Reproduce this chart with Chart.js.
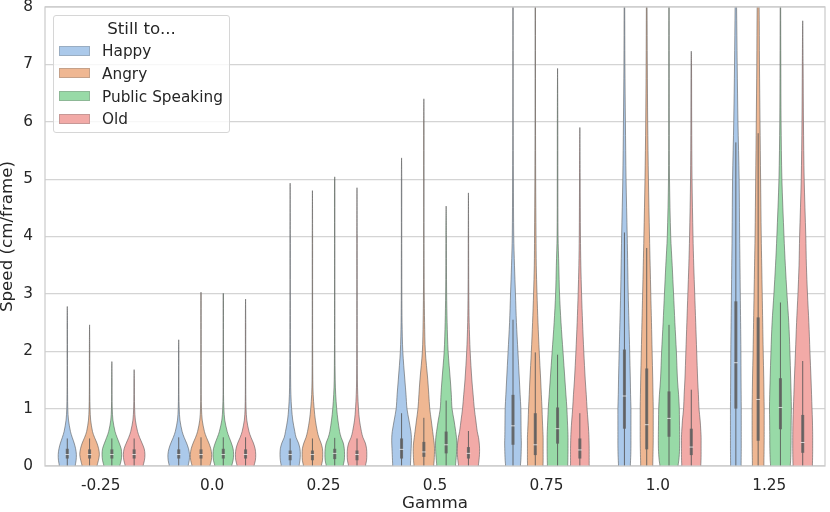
<!DOCTYPE html>
<html>
<head>
<meta charset="utf-8">
<script src="https://cdn.jsdelivr.net/npm/chart.js@4.4.0/dist/chart.umd.min.js"></script>
<style>
  html, body { margin: 0; padding: 0; background: #fff; }
  #wrap { position: relative; width: 830px; height: 512px; }
  #legend {
    position: absolute; left: 53px; top: 15px; width: 177px; height: 118px;
    background: rgba(255,255,255,0.8); border: 1px solid #d6d6d6; border-radius: 3px;
    font-family: "DejaVu Sans", sans-serif; font-size: 15.3px; color: #262626;
    box-sizing: border-box;
  }
  #legend .title { position: absolute; top: 2px; left: 0; width: 100%; text-align: center;
    font-size: 16.7px; line-height: 20px; }
  #legend .item { position: absolute; left: 5px; height: 20px; line-height: 20px; white-space: nowrap; }
  #legend .patch { display: inline-block; width: 31px; height: 10px; vertical-align: middle;
    margin-top: -2px; margin-right: 12px; box-sizing: border-box; border: 1px solid rgba(120,120,120,0.35); }
</style>
</head>
<body>
<div id="wrap">
  <canvas id="violins" width="830" height="512"></canvas>
  <div id="legend"></div>
</div>
<script>
// categories and series
const groups = ['-0.25', '0.0', '0.25', '0.5', '0.75', '1.0', '1.25'];
const series = ['Happy', 'Angry', 'Public Speaking', 'Old'];
const colors = ['#abc9ea', '#efb792', '#98daa7', '#f2aaa7'];

// speed levels at which the density of each violin was read
const gridY = [0, 0.1, 0.2, 0.3, 0.4, 0.5, 0.6, 0.8, 1, 1.25, 1.5, 2, 2.5, 3, 3.5, 4, 5, 6, 7, 8];

// relative density at each gridY level, one row per gamma
const happyDensity = [
  [16, 18, 18.5, 17, 14, 10, 6.5, 2.5, 1, 0.6, 0.4, 0.4, 0.4, 0.4, 0.4, 0.4, 0.4, 0.4, 0.4, 0.4],
  [19, 21.5, 22, 20, 16, 11, 7, 2.5, 1, 0.5, 0.4, 0.4, 0.4, 0.4, 0.4, 0.4, 0.4, 0.4, 0.4, 0.4],
  [18, 20, 20.7, 20, 17, 12, 9.5, 5.3, 3, 1.5, 1, 0.6, 0.5, 0.4, 0.4, 0.4, 0.4, 0.4, 0.4, 0.4],
  [18, 18.5, 19, 19.5, 20, 20, 19, 15, 11, 9, 6.7, 2.5, 1, 0.6, 0.5, 0.4, 0.4, 0.4, 0.4, 0.4],
  [15, 16, 16.5, 16.8, 17, 16.7, 16.5, 16.3, 16, 14.5, 13, 10, 7, 5, 3, 1.5, 0.8, 0.5, 0.4, 0.4],
  [12, 12.5, 13, 13.2, 13.3, 13.3, 13.3, 13.3, 13.3, 12.5, 12, 10.7, 9.2, 7.7, 6.7, 5.7, 3.3, 2, 1, 0.6],
  [10.7, 10.8, 10.9, 11, 11, 11, 11, 11, 11, 10.8, 10.6, 10.3, 9.7, 9, 8.4, 7.7, 6.7, 4.3, 2.7, 1.5]
];
const angryDensity = [
  [15, 18, 20, 18.5, 15, 10, 6, 2.2, 1, 0.5, 0.4, 0.4, 0.4, 0.4, 0.4, 0.4, 0.4, 0.4, 0.4, 0.4],
  [18, 21, 21.7, 20, 16, 11, 7, 2.5, 1, 0.5, 0.4, 0.4, 0.4, 0.4, 0.4, 0.4, 0.4, 0.4, 0.4, 0.4],
  [18, 20.5, 21, 20.5, 17.5, 13, 10, 6, 3.5, 1.5, 0.8, 0.5, 0.4, 0.4, 0.4, 0.4, 0.4, 0.4, 0.4, 0.4],
  [20, 21, 21.5, 21.7, 21, 19.5, 18, 15, 12, 10, 8, 3, 1.5, 0.8, 0.5, 0.4, 0.4, 0.4, 0.4, 0.4],
  [15.7, 16, 16, 16, 16, 16, 15.5, 14.5, 13.7, 12.3, 11, 8, 5.5, 3.5, 2, 1.5, 0.8, 0.5, 0.4, 0.4],
  [12.3, 12.5, 12.8, 13, 13.2, 13.3, 13.3, 13.3, 13.3, 12.8, 12.3, 11, 9.7, 8.3, 7, 5.7, 3.5, 2, 1.2, 0.7],
  [11.7, 11.8, 12, 12.1, 12.2, 12.3, 12.3, 12.3, 12.3, 11.9, 11.5, 10.3, 9.3, 8.3, 7.3, 6.3, 5, 3.8, 2.7, 2]
];
const speakingDensity = [
  [16, 19, 20, 19, 15, 10.5, 6.5, 2.2, 0.8, 0.4, 0.4, 0.4, 0.4, 0.4, 0.4, 0.4, 0.4, 0.4, 0.4, 0.4],
  [17, 20, 21, 20, 16.5, 12, 8, 3, 1.2, 0.5, 0.4, 0.4, 0.4, 0.4, 0.4, 0.4, 0.4, 0.4, 0.4, 0.4],
  [17, 19.5, 20, 19.5, 17.5, 13, 10, 6.5, 4, 2, 1, 0.5, 0.4, 0.4, 0.4, 0.4, 0.4, 0.4, 0.4, 0.4],
  [19, 20, 21, 21.5, 21.7, 21, 19.5, 16, 12, 10.5, 8.5, 4, 2, 1, 0.6, 0.5, 0.4, 0.4, 0.4, 0.4],
  [20.7, 21, 21.2, 21.3, 21.3, 21.3, 21, 20, 19, 17, 15, 11, 7, 4, 2.5, 1, 0.6, 0.5, 0.4, 0.4],
  [18.3, 20, 21, 21.5, 21.7, 21.7, 21.6, 21.3, 21, 19.5, 17.3, 15, 12, 9.3, 6.5, 3.5, 1, 0.6, 0.5, 0.4],
  [20, 20.8, 21.3, 21.5, 21.7, 21.7, 21.8, 22, 22.3, 21.8, 21, 19.3, 17, 13.3, 10, 7.3, 3, 1.3, 0.8, 0.5]
];
const oldDensity = [
  [18, 21, 22, 20.5, 16, 11, 7, 2.5, 1, 0.5, 0.4, 0.4, 0.4, 0.4, 0.4, 0.4, 0.4, 0.4, 0.4, 0.4],
  [17, 20, 20.7, 19.5, 16, 11, 7, 2.5, 1, 0.5, 0.4, 0.4, 0.4, 0.4, 0.4, 0.4, 0.4, 0.4, 0.4, 0.4],
  [17, 19.5, 20, 19.5, 17, 12, 9, 5, 3, 1.5, 0.8, 0.5, 0.4, 0.4, 0.4, 0.4, 0.4, 0.4, 0.4, 0.4],
  [20, 21.5, 22.5, 22.7, 22, 20.5, 18, 15, 12, 9.5, 7, 3.5, 1.5, 0.8, 0.5, 0.4, 0.4, 0.4, 0.4, 0.4],
  [19, 19, 19, 19, 18.8, 18.5, 18, 16.5, 14.7, 13, 11, 8, 5.5, 3.5, 2, 1.2, 0.6, 0.4, 0.4, 0.4],
  [19.3, 19.8, 20, 20, 20, 20, 19.5, 18, 15.7, 14.5, 13, 11, 9, 7, 5, 3.5, 1.5, 0.8, 0.5, 0.4],
  [19.7, 20, 20.2, 20.3, 20.3, 20.3, 20.2, 19.8, 19, 18, 17, 14.7, 12.5, 9.7, 7.5, 6.3, 3, 1.5, 0.8, 0.5]
];

// largest observed speed (top of violin tail)
const happyMax = [2.78, 2.2, 4.93, 5.37, 9, 9, 9];
const angryMax = [2.46, 3.03, 4.8, 6.4, 9, 9, 9];
const speakingMax = [1.82, 3.01, 5.04, 4.53, 6.93, 9, 9];
const oldMax = [1.68, 2.91, 4.85, 4.76, 5.9, 7.23, 7.76];

// inner box: quartiles, median, upper whisker
const happyQ1 = [0.13, 0.13, 0.1, 0.13, 0.37, 0.65, 1.0];
const happyMedian = [0.2, 0.2, 0.2, 0.29, 0.7, 1.22, 1.8];
const happyQ3 = [0.3, 0.29, 0.27, 0.48, 1.24, 2.03, 2.87];
const happyWhisker = [0.48, 0.5, 0.48, 0.92, 2.55, 4.07, 5.64];

const angryQ1 = [0.13, 0.13, 0.1, 0.16, 0.19, 0.29, 0.44];
const angryMedian = [0.2, 0.2, 0.2, 0.245, 0.37, 0.72, 1.16];
const angryQ3 = [0.29, 0.29, 0.27, 0.42, 0.92, 1.7, 2.59];
const angryWhisker = [0.48, 0.5, 0.48, 0.84, 1.98, 3.8, 5.8];

const speakingQ1 = [0.13, 0.13, 0.12, 0.22, 0.39, 0.51, 0.64];
const speakingMedian = [0.2, 0.2, 0.22, 0.37, 0.65, 0.83, 1.02];
const speakingQ3 = [0.29, 0.3, 0.3, 0.6, 1.02, 1.3, 1.53];
const speakingWhisker = [0.48, 0.5, 0.49, 1.14, 1.94, 2.46, 2.85];

const oldQ1 = [0.13, 0.13, 0.1, 0.13, 0.13, 0.19, 0.23];
const oldMedian = [0.2, 0.2, 0.2, 0.22, 0.28, 0.33, 0.41];
const oldQ3 = [0.29, 0.29, 0.27, 0.33, 0.48, 0.65, 0.89];
const oldWhisker = [0.48, 0.5, 0.48, 0.61, 0.92, 1.33, 1.83];

const densities = [happyDensity, angryDensity, speakingDensity, oldDensity];
const maxes = [happyMax, angryMax, speakingMax, oldMax];
const q1s = [happyQ1, angryQ1, speakingQ1, oldQ1];
const medians = [happyMedian, angryMedian, speakingMedian, oldMedian];
const q3s = [happyQ3, angryQ3, speakingQ3, oldQ3];
const whiskers = [happyWhisker, angryWhisker, speakingWhisker, oldWhisker];

// seaborn style dodge: 4 hues share 0.8 of each category
const groupWidth = 0.8;
const violinWidth = groupWidth / series.length;
const peak = Math.max(...densities.flat(2));
const lineGray = 'rgba(85,85,85,0.85)';

function centreOf(g, s) {
  return g - groupWidth / 2 + violinWidth * (s + 0.5);
}

// closed outline: up the right side, down the left side
function outline(c, dens, top) {
  const right = [], left = [];
  gridY.forEach((y, i) => {
    if (y >= top) return;
    const hw = dens[i] / peak * violinWidth / 2;
    right.push({ x: c + hw, y: y });
    left.unshift({ x: c - hw, y: y });
  });
  return [...right, { x: c, y: top }, ...left];
}

const datasets = [];
series.forEach((name, s) => {
  groups.forEach((gLabel, g) => {
    const c = centreOf(g, s);
    datasets.push({
      label: name,
      data: outline(c, densities[s][g], maxes[s][g]),
      showLine: true,
      fill: 'shape',
      backgroundColor: colors[s],
      borderColor: 'rgba(90,90,90,0.85)',
      borderWidth: 0.7,
      tension: 0.3,
      pointRadius: 0,
      order: 3
    });
    // whisker
    datasets.push({
      data: [{ x: c, y: 0 }, { x: c, y: whiskers[s][g] }],
      showLine: true, borderColor: lineGray, borderWidth: 1, pointRadius: 0, order: 2
    });
    // interquartile box
    datasets.push({
      data: [{ x: c, y: q1s[s][g] }, { x: c, y: q3s[s][g] }],
      showLine: true, borderColor: 'rgba(95,95,95,0.85)', borderWidth: 3, pointRadius: 0, order: 1
    });
    // median tick
    datasets.push({
      data: [{ x: c, y: medians[s][g] }],
      showLine: false, pointStyle: 'line', pointRadius: 2,
      borderColor: 'rgba(255,255,255,0.7)', pointBorderWidth: 1, order: 0
    });
  });
});

// light grey frame round the plot, like the seaborn whitegrid spines
const frame = {
  id: 'frame',
  afterDatasetsDraw(chart) {
    const { ctx, chartArea: a } = chart;
    ctx.save();
    ctx.strokeStyle = '#cccccc';
    ctx.lineWidth = 1.25;
    ctx.strokeRect(a.left, a.top, a.right - a.left, a.bottom - a.top);
    ctx.restore();
  }
};

Chart.defaults.font.family = '"DejaVu Sans", sans-serif';
Chart.defaults.font.size = 15.3;
Chart.defaults.color = '#262626';

new Chart(document.getElementById('violins'), {
  type: 'scatter',
  data: { datasets: datasets },
  options: {
    responsive: false,
    animation: false,
    layout: { padding: { top: 7, right: 1, left: 0, bottom: 0 } },
    plugins: { legend: { display: false }, tooltip: { enabled: false } },
    scales: {
      x: {
        type: 'linear', min: -0.5, max: 6.5,
        afterBuildTicks: scale => { scale.ticks = groups.map((_, i) => ({ value: i })); },
        afterFit: scale => { scale.height = 46; scale.paddingLeft = 0; scale.paddingRight = 0; },
        ticks: { callback: v => groups[v], padding: 11, maxRotation: 0 },
        grid: { display: false, drawTicks: false },
        border: { display: false },
        title: { display: true, text: 'Gamma', font: { size: 16.7 }, padding: { top: 0, bottom: -2 } }
      },
      y: {
        min: 0, max: 8,
        afterFit: scale => { scale.width = 45; scale.paddingTop = 0; scale.paddingBottom = 0; },
        ticks: { stepSize: 1, padding: 12 },
        grid: { color: '#d4d4d4', lineWidth: 1.2, drawTicks: false },
        border: { display: false },
        title: { display: true, text: 'Speed (cm/frame)', font: { size: 16.7 }, padding: { top: -2, bottom: 0 } }
      }
    }
  },
  plugins: [frame]
});

// legend box with title, drawn over the top-left of the plot
const legend = document.getElementById('legend');
legend.innerHTML = '<div class="title">Still to...</div>' + series.map((name, s) =>
  '<div class="item" style="top:' + (25 + s * 22.8) + 'px"><span class="patch" style="background:' +
  colors[s] + '"></span>' + name + '</div>').join('');
</script>
</body>
</html>
